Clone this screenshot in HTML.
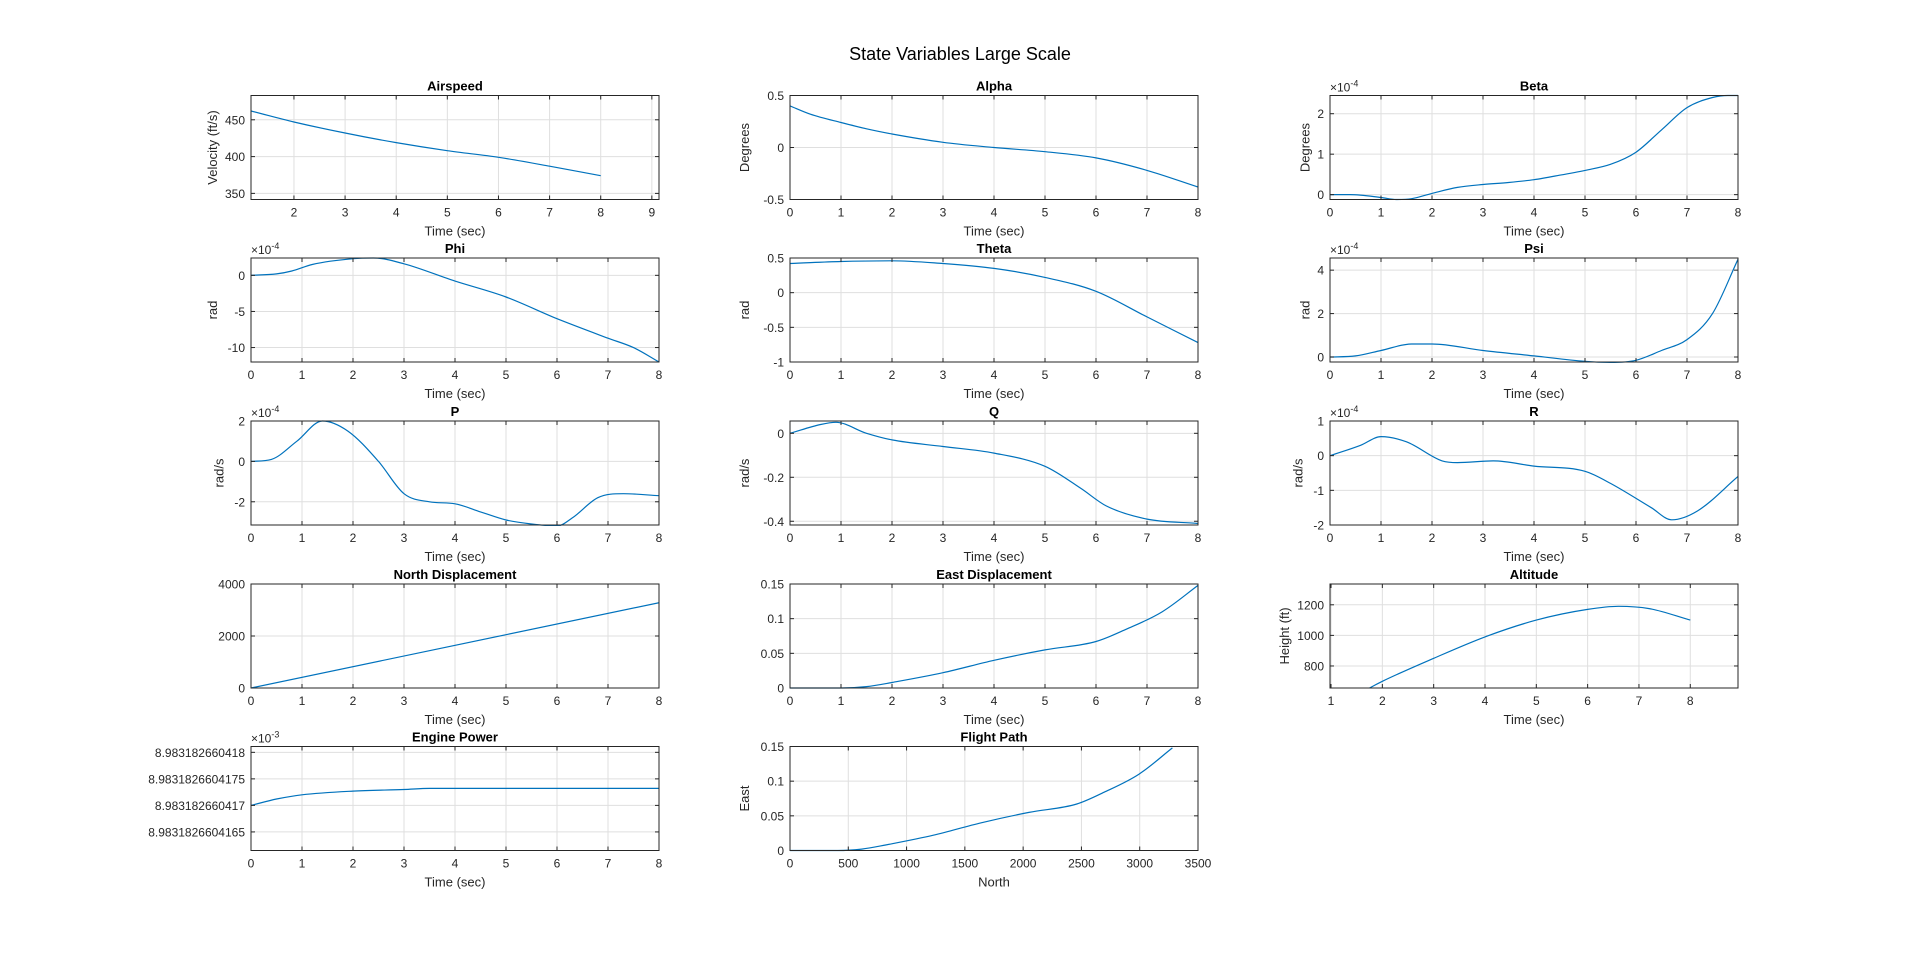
<!DOCTYPE html>
<html><head><meta charset="utf-8"><style>
html,body{margin:0;padding:0;background:#fff;}
svg{display:block;font-family:"Liberation Sans",Arial,sans-serif;}
</style></head><body>
<svg id="fig" width="1920" height="963" viewBox="0 0 1920 963">
<rect width="1920" height="963" fill="#fff"/>
<text x="960" y="60" text-anchor="middle" font-size="18" fill="#000">State Variables Large Scale</text>
</svg>
<script>
// ---- data arrays ----
const timeTicks = [0,1,2,3,4,5,6,7,8];
const airspeedT = [1.16,2,3,4,5,6,7,8];
const airspeedV = [462,447,432,419,408,399,387,374];
const alphaT = [0,0.4,1,1.5,2,3,4,5,6,7,8];
const alphaV = [0.4,0.32,0.24,0.18,0.13,0.05,0.0,-0.04,-0.1,-0.22,-0.38];
const betaT = [0,0.4,1,1.3,1.6,2,2.5,3,3.5,4,4.5,5,5.5,6,6.5,7,7.5,7.8,8];
const betaV = [0,0,-0.07,-0.12,-0.1,0.03,0.18,0.25,0.3,0.37,0.48,0.6,0.75,1.05,1.6,2.15,2.4,2.45,2.45];
const phiT = [0,0.5,0.8,1.2,2,2.4,3,4,5,6,7,7.5,8];
const phiV = [0,0.2,0.6,1.5,2.3,2.4,1.6,-0.8,-3,-6,-8.7,-10,-12];
const thetaT = [0,1,2,3,4,5,6,7,8];
const thetaV = [0.42,0.45,0.46,0.42,0.35,0.22,0.02,-0.35,-0.72];
const psiT = [0,0.5,1,1.6,2,3,4,5,5.5,6,6.5,7,7.5,8];
const psiV = [0,0.05,0.3,0.6,0.6,0.3,0.05,-0.2,-0.25,-0.15,0.3,0.8,2,4.5];
const pT = [0,0.4,0.9,1.4,1.9,2.5,3,3.5,4,4.5,5,5.5,6,6.3,6.8,7.3,8];
const pV = [0,0.1,1,2,1.5,0,-1.6,-2,-2.1,-2.5,-2.9,-3.1,-3.2,-2.8,-1.8,-1.6,-1.7];
const qT = [0,0.6,0.9,1.5,2,3,4,5,5.7,6.2,7,8];
const qV = [0,0.04,0.05,0,-0.03,-0.06,-0.09,-0.15,-0.25,-0.33,-0.39,-0.41];
const rT = [0,0.6,1,1.5,2.2,2.5,3.2,4,5,5.5,6.3,6.7,7.2,8];
const rV = [0,0.3,0.55,0.4,-0.15,-0.2,-0.15,-0.3,-0.45,-0.8,-1.5,-1.85,-1.6,-0.6];
const northT = [0,8];
const northV = [0,3280];
const eastT = [0,1,1.5,2,3,4,5,6,6.6,7.3,8];
const eastV = [0,0,0.002,0.008,0.022,0.04,0.055,0.067,0.085,0.11,0.148];
const altT = [1.75,2,3,4,5,6,6.6,7.2,8];
const altV = [656,700,850,990,1100,1170,1190,1175,1100];
const powerT = [0,0.5,1,2,3,3.5,8];
const powerV = [0.5,0.62,0.7,0.77,0.8,0.82,0.82];
const pathNorth = [0,410,615,820,1230,1640,2050,2460,2706,2993,3280];
const pathEast = [0,0,0.002,0.008,0.022,0.04,0.055,0.067,0.085,0.11,0.148];
const powerTickLabels = ["8.9831826604165","8.983182660417","8.9831826604175","8.983182660418"];

const NS="http://www.w3.org/2000/svg";
const svg=document.getElementById('fig');
const colX=[251,790,1330], W=408, rowY=[95.5,258,421,584,746.5], H=104;
function el(tag,attrs,parent){const e=document.createElementNS(NS,tag);for(const k in attrs)e.setAttribute(k,attrs[k]);(parent||svg).appendChild(e);return e;}

// monotone cubic path through pixel points
function monoPath(X,Y){
  const n=X.length;
  if(n<3){return 'M'+X.map((x,i)=>x.toFixed(1)+','+Y[i].toFixed(1)).join('L');}
  const d=[],m=new Array(n);
  for(let i=0;i<n-1;i++)d.push((Y[i+1]-Y[i])/(X[i+1]-X[i]));
  m[0]=d[0];m[n-1]=d[n-2];
  for(let i=1;i<n-1;i++){m[i]=(d[i-1]*d[i]<=0)?0:(d[i-1]+d[i])/2;}
  for(let i=0;i<n-1;i++){
    if(d[i]===0){m[i]=0;m[i+1]=0;continue;}
    const a=m[i]/d[i],b=m[i+1]/d[i],s=a*a+b*b;
    if(s>9){const t=3/Math.sqrt(s);m[i]=t*a*d[i];m[i+1]=t*b*d[i];}
  }
  let p='M'+X[0].toFixed(1)+','+Y[0].toFixed(1);
  for(let i=0;i<n-1;i++){
    const h=(X[i+1]-X[i])/3;
    p+='C'+(X[i]+h).toFixed(1)+','+(Y[i]+m[i]*h).toFixed(1)+' '+(X[i+1]-h).toFixed(1)+','+(Y[i+1]-m[i+1]*h).toFixed(1)+' '+X[i+1].toFixed(1)+','+Y[i+1].toFixed(1);
  }
  return p;
}

function plot(cfg){
  const L=colX[cfg.c], T=rowY[cfg.r], R=L+W, B=T+H;
  const g=el('g',{});
  
  
  const sx=v=>L+(v-cfg.xl[0])/(cfg.xl[1]-cfg.xl[0])*W;
  const sy=v=>B-(v-cfg.yl[0])/(cfg.yl[1]-cfg.yl[0])*H;
  cfg.xt.forEach(v=>{const x=sx(v);if(x>L+0.5&&x<R-0.5){const ln=el('line',{x1:x,x2:x,y1:T,y2:B,stroke:'#dfdfdf','stroke-width':1},g);}});
  cfg.yt.forEach(v=>{const y=sy(v);if(y>T+0.5&&y<B-0.5){const ln=el('line',{x1:L,x2:R,y1:y,y2:y,stroke:'#dfdfdf','stroke-width':1},g);}});
  const PX=cfg.x.map(sx), PY=cfg.y.map(sy);
  const cp=el('clipPath',{id:'cp'+cfg.name},g);el('rect',{x:L,y:T-1,width:W,height:H+2},cp);
  const pl=el('path',{d:monoPath(PX,PY),fill:'none',stroke:'#0072BD','stroke-width':1.2,'clip-path':'url(#cp'+cfg.name+')'},g);
  
  
  const bx=el('rect',{x:L,y:T,width:W,height:H,fill:'none',stroke:'#262626','stroke-width':1},g);
  
  
  cfg.xt.forEach((v,i)=>{const x=sx(v);if(x<L-0.5||x>R+0.5)return;
    el('line',{x1:x,x2:x,y1:B,y2:B-4,stroke:'#262626'},g);el('line',{x1:x,x2:x,y1:T,y2:T+4,stroke:'#262626'},g);
    const t=el('text',{x:x,y:B+17,'text-anchor':'middle','font-size':12,fill:'#262626'},g);
    t.textContent=cfg.xtl?cfg.xtl[i]:String(v);
    
    });
  let maxw=0;
  cfg.yt.forEach((v,i)=>{const y=sy(v);if(y<T-0.5||y>B+0.5)return;
    el('line',{x1:L,x2:L+4,y1:y,y2:y,stroke:'#262626'},g);el('line',{x1:R,x2:R-4,y1:y,y2:y,stroke:'#262626'},g);
    const s=cfg.ytl?cfg.ytl[i]:String(v);maxw=Math.max(maxw,s.length*6.7);
    const t=el('text',{x:L-6,y:y+4.5,'text-anchor':'end','font-size':12,fill:'#262626'},g);
    t.textContent=s;
    
    });
  const ti=el('text',{x:L+W/2,y:T-5,'text-anchor':'middle','font-size':13,'font-weight':'bold',fill:'#000'},g);
  ti.textContent=cfg.title;
  
  
  const xl=el('text',{x:L+W/2,y:B+36,'text-anchor':'middle','font-size':13,fill:'#262626'},g);
  xl.textContent=cfg.xlabel;
  
  
  if(cfg.ylabel){const yx=L-maxw-14;
    const yl=el('text',{x:yx,y:T+H/2,'text-anchor':'middle','font-size':13,fill:'#262626',transform:'rotate(-90 '+yx+' '+(T+H/2)+')'},g);
    yl.textContent=cfg.ylabel;
    
    }
  if(cfg.exp){const ex=el('text',{x:L,y:T-4,'font-size':12,fill:'#262626'},g);
    ex.innerHTML='×10<tspan dy="-5" font-size="9">'+cfg.exp+'</tspan>';
    
    }
}
const TS='Time (sec)';
plot({name:'airspeed',r:0,c:0,title:'Airspeed',xlabel:TS,ylabel:'Velocity (ft/s)',xl:[1.16,9.14],yl:[341.7,483],xt:[2,3,4,5,6,7,8,9],yt:[350,400,450],x:airspeedT,y:airspeedV});
plot({name:'alpha',r:0,c:1,title:'Alpha',xlabel:TS,ylabel:'Degrees',xl:[0,8],yl:[-0.5,0.5],xt:timeTicks,yt:[-0.5,0,0.5],x:alphaT,y:alphaV});
plot({name:'beta',r:0,c:2,title:'Beta',xlabel:TS,ylabel:'Degrees',exp:'-4',xl:[0,8],yl:[-0.12,2.45],xt:timeTicks,yt:[0,1,2],x:betaT,y:betaV});
plot({name:'phi',r:1,c:0,title:'Phi',xlabel:TS,ylabel:'rad',exp:'-4',xl:[0,8],yl:[-12,2.4],xt:timeTicks,yt:[-10,-5,0],x:phiT,y:phiV});
plot({name:'theta',r:1,c:1,title:'Theta',xlabel:TS,ylabel:'rad',xl:[0,8],yl:[-1,0.5],xt:timeTicks,yt:[-1,-0.5,0,0.5],x:thetaT,y:thetaV});
plot({name:'psi',r:1,c:2,title:'Psi',xlabel:TS,ylabel:'rad',exp:'-4',xl:[0,8],yl:[-0.23,4.56],xt:timeTicks,yt:[0,2,4],x:psiT,y:psiV});
plot({name:'p',r:2,c:0,title:'P',xlabel:TS,ylabel:'rad/s',exp:'-4',xl:[0,8],yl:[-3.15,2],xt:timeTicks,yt:[-2,0,2],x:pT,y:pV});
plot({name:'q',r:2,c:1,title:'Q',xlabel:TS,ylabel:'rad/s',xl:[0,8],yl:[-0.417,0.056],xt:timeTicks,yt:[-0.4,-0.2,0],x:qT,y:qV});
plot({name:'r',r:2,c:2,title:'R',xlabel:TS,ylabel:'rad/s',exp:'-4',xl:[0,8],yl:[-2,1],xt:timeTicks,yt:[-2,-1,0,1],x:rT,y:rV});
plot({name:'north',r:3,c:0,title:'North Displacement',xlabel:TS,xl:[0,8],yl:[0,4000],xt:timeTicks,yt:[0,2000,4000],x:northT,y:northV});
plot({name:'east',r:3,c:1,title:'East Displacement',xlabel:TS,xl:[0,8],yl:[0,0.15],xt:timeTicks,yt:[0,0.05,0.1,0.15],x:eastT,y:eastV});
plot({name:'altitude',r:3,c:2,title:'Altitude',xlabel:TS,ylabel:'Height (ft)',xl:[0.98,8.93],yl:[656,1336],xt:[1,2,3,4,5,6,7,8],yt:[800,1000,1200],x:altT,y:altV});
plot({name:'engine-power',r:4,c:0,title:'Engine Power',xlabel:TS,exp:'-3',xl:[0,8],yl:[-0.35,1.61],xt:timeTicks,yt:[0,0.5,1,1.5],ytl:powerTickLabels,x:powerT,y:powerV});
plot({name:'flight-path',r:4,c:1,title:'Flight Path',xlabel:'North',ylabel:'East',xl:[0,3500],yl:[0,0.15],xt:[0,500,1000,1500,2000,2500,3000,3500],yt:[0,0.05,0.1,0.15],x:pathNorth,y:pathEast});
</script>
</body></html>
